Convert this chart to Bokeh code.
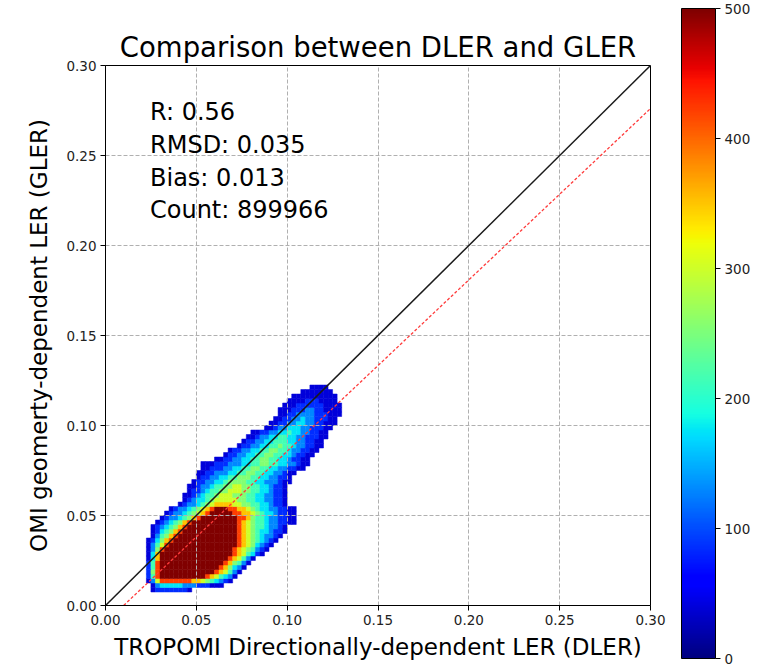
import numpy as np
from bokeh.plotting import figure
from bokeh.models import ColumnDataSource, LinearColorMapper, FixedTicker, PrintfTickFormatter, ColorBar
from bokeh.transform import transform
from bokeh.core.properties import value
from bokeh.embed import file_html
from bokeh.resources import INLINE

# ---------------- data ----------------
TITLE = "Comparison between DLER and GLER"
X_LABEL = "TROPOMI Directionally-dependent LER (DLER)"
Y_LABEL = "OMI geomerty-dependent LER (GLER)"
AXIS_TICKS = [0.0, 0.05, 0.10, 0.15, 0.20, 0.25, 0.30]
CBAR_TICKS = [0, 100, 200, 300, 400, 500]
STATS = ["R: 0.56", "RMSD: 0.035", "Bias: 0.013", "Count: 899966"]
ONE_TO_ONE = [0.0, 0.3]
FIT_SLOPE = 0.952
FIT_INTERCEPT = -0.0095
COUNT_MAX = 500

# 2-D histogram: bins of 0.0025, rows from bottom (y=0.0075) upward,
# each row = first occupied column (from x=0.020) + level characters
BIN = 0.0025
X_FIRST = 0.020
Y_FIRST = 0.0075
LEVEL_COUNT = {"1": 40, "2": 85, "3": 130, "4": 175, "5": 215,
               "6": 255, "7": 300, "8": 350, "9": 420, "A": 500}
ROW_START = [2, 2, 1, 1, 1, 1, 1, 1, 1, 1,
             1, 1, 2, 2, 2, 3, 4, 5, 6, 8,
             9, 9, 10, 10, 11, 12, 12, 13, 13, 16,
             18, 19, 21, 22, 23, 24, 27, 28, 29, 30,
             30, 31, 32, 33, 35, 37]
ROW_LEVELS = [
    "122222221",
    "1344444333222111",
    "1379999999887654321",
    "259" + "A" * 10 + "9875431",
    "269" + "A" * 12 + "987531",
    "259" + "A" * 13 + "986431",
    "259" + "A" * 14 + "986531",
    "148" + "A" * 15 + "987531",
    "148" + "A" * 16 + "9875421",
    "1369" + "A" * 15 + "98765321",
    "13579" + "A" * 15 + "98764321",
    "124689" + "A" * 14 + "987654321",
    "135689" + "A" * 13 + "9876543321",
    "1245689" + "A" * 12 + "98765443221",
    "12345689" + "A" * 11 + "98765543321",
    "12345689" + "A" * 10 + "9876554332211",
    "123345689" + "A" * 8 + "9986554332211",
    "1233456789" + "A" * 5 + "99887654432211",
    "1233456789" + "A" * 3 + "998876544332211",
    "123345678888776655443221",
    "12344567777766554433221",
    "11234556777666554433221",
    "1223455667776655443221",
    "1123345566776655443221",
    "1223344566665544333211",
    "122334455666554433221",
    "1122333445566554433211",
    "11222334455665544332211",
    "111222333445566554433211",
    "112233445566554432211",
    "12233445566554432211",
    "12233445566554332211",
    "1223344556554332211",
    "122334455544332211",
    "112334455443322211",
    "11223344544332211",
    "112334443322211",
    "112233443322111",
    "11223343322211",
    "11223333222111",
    "11122233221111",
    "1112222221111",
    "11112221111",
    "1111111111",
    "1111111",
    "1111",
]

# ---------------- decode histogram cells ----------------
xs, ys, cs = [], [], []
for r, (s, lv) in enumerate(zip(ROW_START, ROW_LEVELS)):
    for k, ch in enumerate(lv):
        if ch == ".":
            continue
        xs.append(X_FIRST + (s + k + 0.5) * BIN)
        ys.append(Y_FIRST + (r + 0.5) * BIN)
        cs.append(LEVEL_COUNT[ch])
src = ColumnDataSource(dict(x=xs, y=ys, count=cs))

# ---------------- jet colormap ----------------
def jet_hex(t):
    rr = np.interp(t, [0, 0.35, 0.66, 0.89, 1], [0, 0, 1, 1, 0.5])
    gg = np.interp(t, [0, 0.125, 0.375, 0.64, 0.91, 1], [0, 0, 1, 1, 0, 0])
    bb = np.interp(t, [0, 0.11, 0.34, 0.65, 1], [0.5, 1, 1, 0, 0])
    return "#%02x%02x%02x" % (int(round(rr * 255)), int(round(gg * 255)), int(round(bb * 255)))

JET = [jet_hex(t) for t in np.linspace(0, 1, 256)]
mapper = LinearColorMapper(palette=JET, low=0, high=COUNT_MAX)

FONT = "DejaVu Sans"

# ---------------- main figure ----------------
p = figure(frame_width=545, frame_height=540, x_range=(0, 0.3), y_range=(0, 0.3),
           output_backend="svg", toolbar_location=None, title=TITLE,
           min_border_left=105, min_border_right=110, min_border_top=65, min_border_bottom=62)
p.title.text_font = FONT
p.title.text_font_size = "27.5px"
p.title.text_font_style = "normal"
p.title.align = "center"
p.title.text_color = "black"
p.title.standoff = 6

for ax in (p.xaxis[0], p.yaxis[0]):
    ax.ticker = FixedTicker(ticks=AXIS_TICKS)
    ax.formatter = PrintfTickFormatter(format="%.2f")
    ax.major_label_text_font = FONT
    ax.major_label_text_font_size = "13.5px"
    ax.major_label_text_color = "#222222"
    ax.major_tick_out = 5
    ax.major_tick_in = 0
    ax.minor_tick_out = 0
    ax.minor_tick_in = 0
    ax.major_label_standoff = 4
    ax.axis_line_color = "black"
    ax.major_tick_line_color = "black"
    ax.axis_label_text_font = FONT
    ax.axis_label_text_font_size = "23px"
    ax.axis_label_text_font_style = "normal"
    ax.axis_label_text_color = "black"
p.xaxis.axis_label = X_LABEL
p.yaxis.axis_label = Y_LABEL
p.xaxis.axis_label_standoff = 6
p.yaxis.axis_label_standoff = 11

p.outline_line_color = "black"
p.outline_line_alpha = 1
p.outline_line_width = 1

for g in (p.xgrid[0], p.ygrid[0]):
    g.ticker = FixedTicker(ticks=AXIS_TICKS)
    g.grid_line_color = "#b0b0b0"
    g.grid_line_dash = "4 2"
    g.grid_line_width = 1

hist = p.rect(x="x", y="y", width=BIN, height=BIN, source=src,
              fill_color=transform("count", mapper),
              line_color=transform("count", mapper), line_width=0.5)
hist.level = "image"

p.line(ONE_TO_ONE, ONE_TO_ONE, line_color="#1a1a1a", line_width=1.5)
fit_x = [-FIT_INTERCEPT / FIT_SLOPE, 0.3]
fit_y = [FIT_SLOPE * v + FIT_INTERCEPT for v in fit_x]
p.line(fit_x, fit_y, line_color="#ff3b3b", line_width=1.3, line_dash="3 2")

p.text(x=[0.0245] * 4, y=[0.2742, 0.2559, 0.2375, 0.2198], text=STATS,
       text_font=value(FONT), text_font_size="24px", text_baseline="alphabetic",
       text_color="black")

# ---------------- colorbar ----------------
cbar = ColorBar(color_mapper=mapper, ticker=FixedTicker(ticks=CBAR_TICKS),
                width=34, height=650, location=(576, -53), padding=0,
                orientation="vertical",
                bar_line_color="black", bar_line_width=1,
                background_fill_alpha=0, border_line_color=None,
                major_label_text_font=FONT, major_label_text_font_size="13.5px",
                major_label_text_color="#222222",
                major_tick_out=5, major_tick_in=0, major_tick_line_color="black",
                minor_tick_out=0, minor_tick_in=0, label_standoff=4)
p.add_layout(cbar, "center")

open("out.html", "w").write(file_html(p, INLINE))
